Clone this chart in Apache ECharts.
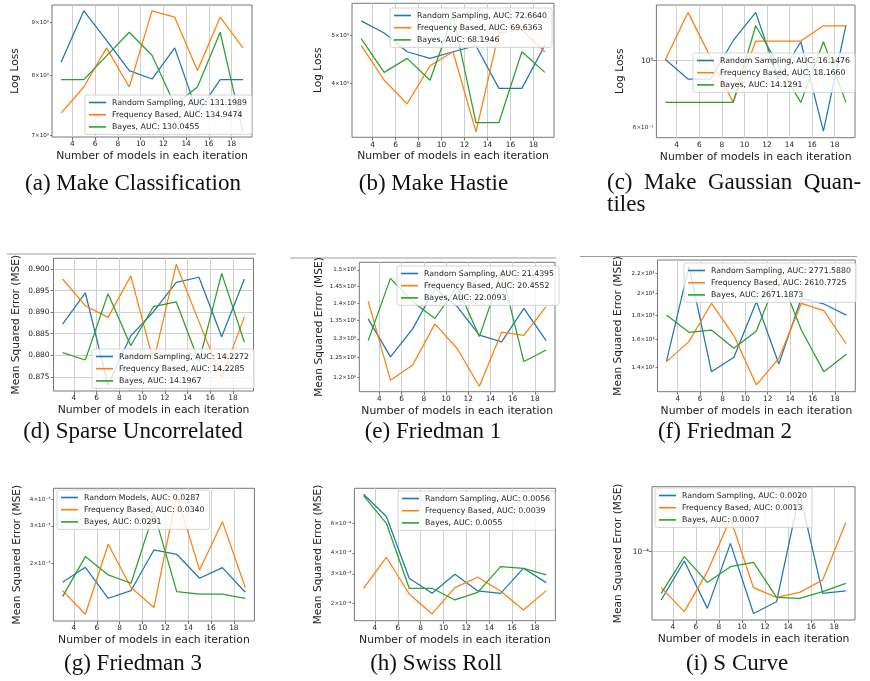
<!DOCTYPE html>
<html>
<head>
<meta charset="utf-8">
<script src="https://cdn.jsdelivr.net/npm/echarts@6/dist/echarts.min.js"></script>
<style>html,body{margin:0;padding:0;background:#fff}#c{width:870px;height:681px}</style>
</head>
<body>
<div id="c"></div>
<script>
// ---------- shared ----------
const xs = [3, 5, 7, 9, 11, 13, 15, 17, 19];
const xTicks = [4, 6, 8, 10, 12, 14, 16, 18];
const xName = 'Number of models in each iteration';

// ---------- (a) Make Classification ----------
const aNames = ['Random Sampling, AUC: 131.1989', 'Frequency Based, AUC: 134.9474', 'Bayes, AUC: 130.0455'];
const aRandom = [8.24, 9.24, 8.65, 8.09, 7.94, 8.51, 7.36, 7.93, 7.93];
const aFreq   = [7.36, 7.80, 8.51, 7.80, 9.24, 9.11, 8.09, 9.11, 8.51];
const aBayes  = [7.93, 7.93, 8.36, 8.81, 8.37, 7.50, 7.80, 8.81, 7.06];
const aYTicks = [7, 8, 9];
const aYLabels = ['7×10⁰', '8×10⁰', '9×10⁰'];

// ---------- (b) Make Hastie ----------
const bNames = ['Random Sampling, AUC: 72.6640', 'Frequency Based, AUC: 69.6363', 'Bayes, AUC: 68.1946'];
const bRandom = [5.34, 5.05, 4.63, 4.49, 4.63, 4.76, 3.91, 3.91, 4.77];
const bFreq   = [4.77, 4.06, 3.64, 4.34, 4.63, 3.20, 5.05, 5.12, 4.63];
const bBayes  = [4.92, 4.21, 4.49, 4.06, 5.48, 3.34, 3.34, 4.63, 4.21];
const bYTicks = [4, 5];
const bYLabels = ['4×10⁰', '5×10⁰'];

// ---------- (c) Make Gaussian Quantiles ----------
const cNames = ['Random Sampling, AUC: 16.1476', 'Frequency Based, AUC: 18.1660', 'Bayes, AUC: 14.1291'];
const cRandom = [1.01, 0.870, 0.870, 1.165, 1.446, 0.870, 1.156, 0.585, 1.313];
const cFreq   = [1.01, 1.446, 1.026, 0.728, 1.162, 1.162, 1.162, 1.306, 1.306];
const cBayes  = [0.728, 0.728, 0.728, 0.728, 1.306, 0.97, 0.728, 1.156, 0.728];
const cYTicks = [0.6, 1];
const cYLabels = ['6×10⁻¹', '10⁰'];
const cMajor = [1];

// ---------- (d) Sparse Uncorrelated ----------
const dNames = ['Random Sampling, AUC: 14.2272', 'Frequency Based, AUC: 14.2285', 'Bayes, AUC: 14.1967'];
const dRandom = [0.8872, 0.8945, 0.8731, 0.8845, 0.8901, 0.8969, 0.8981, 0.8843, 0.8977];
const dFreq   = [0.8977, 0.8915, 0.8888, 0.8984, 0.8785, 0.9011, 0.8878, 0.8748, 0.8889];
const dBayes  = [0.8806, 0.8789, 0.8943, 0.8822, 0.8913, 0.8924, 0.8785, 0.8990, 0.8830];
const dYTicks = [0.875, 0.880, 0.885, 0.890, 0.895, 0.900];

// ---------- (e) Friedman 1 ----------
const eNames = ['Random Sampling, AUC: 21.4395', 'Frequency Based, AUC: 20.4552', 'Bayes, AUC: 22.0093'];
const eRandom = [1.355, 1.252, 1.327, 1.444, 1.390, 1.310, 1.292, 1.385, 1.295];
const eFreq   = [1.406, 1.193, 1.231, 1.341, 1.274, 1.178, 1.318, 1.309, 1.390];
const eBayes  = [1.295, 1.474, 1.404, 1.356, 1.449, 1.306, 1.495, 1.240, 1.270];
const eYTicks = [1.2, 1.25, 1.3, 1.35, 1.4, 1.45, 1.5];
const eYLabels = ['1.2×10⁰', '1.25×10⁰', '1.3×10⁰', '1.35×10⁰', '1.4×10⁰', '1.45×10⁰', '1.5×10⁰'];

// ---------- (f) Friedman 2 ----------
const fNames = ['Random Sampling, AUC: 2771.5880', 'Frequency Based, AUC: 2610.7725', 'Bayes, AUC: 2671.1873'];
const fRandom = [144.3, 227.2, 137.1, 146.9, 192.0, 142.3, 195.1, 189.9, 180.0];
const fFreq   = [143.9, 158.4, 190.5, 163.1, 128.6, 146.2, 190.5, 183.9, 156.6];
const fBayes  = [180.0, 165.7, 167.5, 153.4, 166.7, 220.0, 167.5, 137.1, 149.1];
const fYTicks = [140, 160, 180, 200, 220];
const fYLabels = ['1.4×10²', '1.6×10²', '1.8×10²', '2×10²', '2.2×10²'];

// ---------- (g) Friedman 3 ----------
const gNames = ['Random Models, AUC: 0.0287', 'Frequency Based, AUC: 0.0340', 'Bayes, AUC: 0.0291'];
const gRandom = [1.628e-3, 1.915e-3, 1.369e-3, 1.488e-3, 2.310e-3, 2.205e-3, 1.700e-3, 1.909e-3, 1.461e-3];
const gFreq   = [1.488e-3, 1.151e-3, 2.457e-3, 1.537e-3, 1.238e-3, 4.19e-3, 1.861e-3, 3.14e-3, 1.537e-3];
const gBayes  = [1.394e-3, 2.150e-3, 1.763e-3, 1.611e-3, 3.474e-3, 1.472e-3, 1.430e-3, 1.430e-3, 1.369e-3];
const gYTicks = [2e-3, 3e-3, 4e-3];
const gYLabels = ['2×10⁻³', '3×10⁻³', '4×10⁻³'];

// ---------- (h) Swiss Roll ----------
const hNames = ['Random Sampling, AUC: 0.0056', 'Frequency Based, AUC: 0.0039', 'Bayes, AUC: 0.0055'];
const hRandom = [8.94e-4, 6.58e-4, 2.82e-4, 2.294e-4, 2.979e-4, 2.369e-4, 2.294e-4, 3.234e-4, 2.657e-4];
const hFreq   = [2.457e-4, 3.762e-4, 2.273e-4, 1.728e-4, 2.480e-4, 2.858e-4, 2.369e-4, 1.825e-4, 2.380e-4];
const hBayes  = [8.77e-4, 6.0e-4, 2.457e-4, 2.457e-4, 2.094e-4, 2.326e-4, 3.31e-4, 3.234e-4, 2.951e-4];
const hYTicks = [2e-4, 3e-4, 4e-4, 6e-4];
const hYLabels = ['2×10⁻⁴', '3×10⁻⁴', '4×10⁻⁴', '6×10⁻⁴'];

// ---------- (i) S Curve ----------
const iNames = ['Random Sampling, AUC: 0.0020', 'Frequency Based, AUC: 0.0013', 'Bayes, AUC: 0.0007'];
const iRandom = [2.04e-5, 7.36e-5, 1.55e-5, 1.315e-4, 1.31e-5, 1.93e-5, 6.81e-4, 2.54e-5, 2.75e-5];
const iFreq   = [3.06e-5, 1.39e-5, 5.18e-5, 2.99e-4, 3.06e-5, 2.22e-5, 2.62e-5, 3.94e-5, 2.62e-4];
const iBayes  = [2.54e-5, 8.48e-5, 3.64e-5, 6.11e-5, 7.03e-5, 2.22e-5, 2.15e-5, 2.69e-5, 3.52e-5];
const iYTicks = [1e-4];
const iYLabels = ['10⁻⁴'];
const iMajor = [1e-4];

const captions = ['(a) Make Classification', '(b) Make Hastie', '(c)\u2002Make\u2002Gaussian\u2002Quan-\ntiles',
  '(d) Sparse Uncorrelated', '(e) Friedman 1', '(f) Friedman 2',
  '(g) Friedman 3', '(h) Swiss Roll', '(i) S Curve'];
const yNames = ['Log Loss', 'Log Loss', 'Log Loss',
  'Mean Squared Error (MSE)', 'Mean Squared Error (MSE)', 'Mean Squared Error (MSE)',
  'Mean Squared Error (MSE)', 'Mean Squared Error (MSE)', 'Mean Squared Error (MSE)'];

const colors = ['#1f77b4', '#ff7f0e', '#2ca02c'];

// ---------- layout (positions/styles only) ----------
const panels = [
  {names: aNames, data: [aRandom, aFreq, aBayes], grid: [52, 5, 200, 132], ylog: true, yr: [6.98, 9.36],
   ticks: [aYTicks, aYLabels], major: [], gap: 31, leg: [85, 95], cap: [133, 172.5, 'center']},
  {names: bNames, data: [bRandom, bFreq, bBayes], grid: [352, 3.3, 202, 134], ylog: true, yr: [3.12, 5.79],
   ticks: [bYTicks, bYLabels], major: [], gap: 28, leg: [390, 8], cap: [433.5, 172.5, 'center']},
  {names: cNames, data: [cRandom, cFreq, cBayes], grid: [656.4, 5, 198.6, 132.7], ylog: true, yr: [0.556, 1.53],
   ticks: [cYTicks, cYLabels], major: cMajor, gap: 31, leg: [693, 53], cap: [607, 172, 'left']},
  {names: dNames, data: [dRandom, dFreq, dBayes], grid: [53.5, 258.3, 200, 132.7], ylog: false, yr: [0.8717, 0.9025],
   ticks: null, major: [], gap: 31.5, leg: [92, 349], cap: [133, 420.5, 'center']},
  {names: eNames, data: [eRandom, eFreq, eBayes], grid: [359.3, 262.3, 195.7, 129.4], ylog: true, yr: [1.1647, 1.524],
   ticks: [eYTicks, eYLabels], major: [], gap: 35, leg: [397, 266], cap: [433, 420.5, 'center']},
  {names: fNames, data: [fRandom, fFreq, fBayes], grid: [657.5, 260, 197.8, 131.7], ylog: true, yr: [124.5, 234.6],
   ticks: [fYTicks, fYLabels], major: [], gap: 33.5, leg: [684, 263], cap: [725, 420.5, 'center']},
  {names: gNames, data: [gRandom, gFreq, gBayes], grid: [53.4, 488.3, 201, 132.7], ylog: true, yr: [1.070e-3, 4.507e-3],
   ticks: [gYTicks, gYLabels], major: [], gap: 31, leg: [57, 490], cap: [133, 652.5, 'center']},
  {names: hNames, data: [hRandom, hFreq, hBayes], grid: [354.4, 488.3, 201, 132.4], ylog: true, yr: [1.575e-4, 9.70e-4],
   ticks: [hYTicks, hYLabels], major: [], gap: 31, leg: [398, 491], cap: [436, 652.5, 'center']},
  {names: iNames, data: [iRandom, iFreq, iBayes], grid: [652, 486.7, 203, 133.3], ylog: true, yr: [1.057e-5, 8.48e-4],
   ticks: [iYTicks, iYLabels], major: iMajor, gap: 28, leg: [655, 488], cap: [737, 652.5, 'center']}
];

const txt = '#222';
const sans = 'DejaVu Sans';
const gridColor = '#cfcfcf';

const grids = [], xAxes = [], yAxes = [], series = [], legends = [], titles = [];
panels.forEach((p, i) => {
  grids.push({left: p.grid[0], top: p.grid[1], width: p.grid[2], height: p.grid[3], show: true,
    borderColor: '#555', borderWidth: 0.8, backgroundColor: 'transparent'});
  xAxes.push({gridIndex: i, type: 'value', min: 2.2, max: 19.8, position: 'bottom',
    name: xName, nameLocation: 'middle', nameGap: 13.5,
    nameTextStyle: {fontSize: 10.8, color: txt, fontFamily: sans},
    axisLine: {show: false},
    axisTick: {show: true, customValues: xTicks, length: 3, lineStyle: {color: '#555', width: 0.8}},
    axisLabel: {customValues: xTicks, fontSize: 7.4, margin: 4, color: txt, fontFamily: sans},
    splitLine: {show: true, lineStyle: {color: gridColor, width: 1}}});

  const nameCfg = {name: yNames[i], nameLocation: 'middle', nameGap: p.gap,
    nameTextStyle: {fontSize: 10.6, color: txt, fontFamily: sans}};
  let dataAxis;
  if (p.ylog) {
    // data axis: logarithmic scale, drawn without its own ticks
    dataAxis = yAxes.length;
    yAxes.push({gridIndex: i, type: 'log', logBase: 10, min: p.yr[0], max: p.yr[1], position: 'left', offset: 0,
      axisLine: {show: false}, axisTick: {show: false}, axisLabel: {show: false}, splitLine: {show: false}});
    // companion label axis in decades, carrying matplotlib-style tick labels
    const tv = p.ticks[0].map(v => Math.log10(v));
    const mv = p.major.map(v => Math.log10(v));
    const isMajor = v => mv.some(m => Math.abs(m - v) < 1e-9);
    const labelOf = v => {
      const j = tv.findIndex(t => Math.abs(t - v) < 1e-9);
      if (j < 0) return '';
      return isMajor(v) ? '{maj|' + p.ticks[1][j] + '}' : p.ticks[1][j];
    };
    yAxes.push(Object.assign({gridIndex: i, type: 'value', min: Math.log10(p.yr[0]), max: Math.log10(p.yr[1]),
      position: 'left', offset: 0,
      axisLine: {show: false},
      axisTick: {show: true, customValues: mv.length ? mv : tv, length: mv.length ? 3 : 2,
        lineStyle: {color: '#555', width: 0.8}},
      axisLabel: {customValues: tv, formatter: labelOf, fontSize: 5.6, margin: 3, color: txt, fontFamily: sans,
        rich: {maj: {fontSize: 7.4, color: txt, fontFamily: sans}}},
      splitLine: {show: mv.length > 0, lineStyle: {color: gridColor, width: 1}}}, nameCfg));
  } else {
    dataAxis = yAxes.length;
    yAxes.push(Object.assign({gridIndex: i, type: 'value', min: p.yr[0], max: p.yr[1], position: 'left',
      axisLine: {show: false},
      axisTick: {show: true, customValues: dYTicks, length: 3, lineStyle: {color: '#555', width: 0.8}},
      axisLabel: {customValues: dYTicks, fontSize: 7.4, margin: 4, color: txt, fontFamily: sans,
        formatter: v => v.toFixed(3)},
      splitLine: {show: true, lineStyle: {color: gridColor, width: 1}}}, nameCfg));
  }

  p.data.forEach((vals, k) => {
    series.push({type: 'line', name: p.names[k], xAxisIndex: i, yAxisIndex: dataAxis,
      data: xs.map((x, j) => [x, vals[j]]),
      showSymbol: false, symbol: 'none', animation: false, silent: true,
      lineStyle: {color: colors[k], width: 1.25}, itemStyle: {color: colors[k]}, z: 2});
  });

  legends.push({data: p.names, orient: 'vertical', left: p.leg[0], top: p.leg[1],
    icon: 'rect', itemWidth: 17, itemHeight: 1.6, itemGap: 3.2, selectedMode: false,
    padding: [3, 5, 3, 4], backgroundColor: 'rgba(255,255,255,0.8)', borderColor: '#ccc', borderWidth: 0.8, borderRadius: 2,
    textStyle: {fontSize: 7.8, color: txt, fontFamily: sans, lineHeight: 9, padding: [0, 0, 0, 1]}});

  titles.push({text: captions[i], left: p.cap[0], top: p.cap[1], textAlign: p.cap[2], padding: 0,
    textStyle: {fontFamily: 'Liberation Serif', fontSize: 23, fontWeight: 'normal', color: '#111', lineHeight: 22}});
});

const chart = echarts.init(document.getElementById('c'), null, {renderer: 'canvas'});
chart.setOption({
  animation: false,
  backgroundColor: '#fff',
  title: titles,
  grid: grids,
  xAxis: xAxes,
  yAxis: yAxes,
  legend: legends,
  series: series,
  graphic: [
    {type: 'line', shape: {x1: 7, y1: 254, x2: 256, y2: 254}, style: {stroke: '#9a9a9a', lineWidth: 1}, silent: true},
    {type: 'line', shape: {x1: 290, y1: 258, x2: 556, y2: 258}, style: {stroke: '#9a9a9a', lineWidth: 1}, silent: true},
    {type: 'line', shape: {x1: 580, y1: 256.5, x2: 857, y2: 256.5}, style: {stroke: '#9a9a9a', lineWidth: 1}, silent: true}
  ]
});
</script>
</body>
</html>
